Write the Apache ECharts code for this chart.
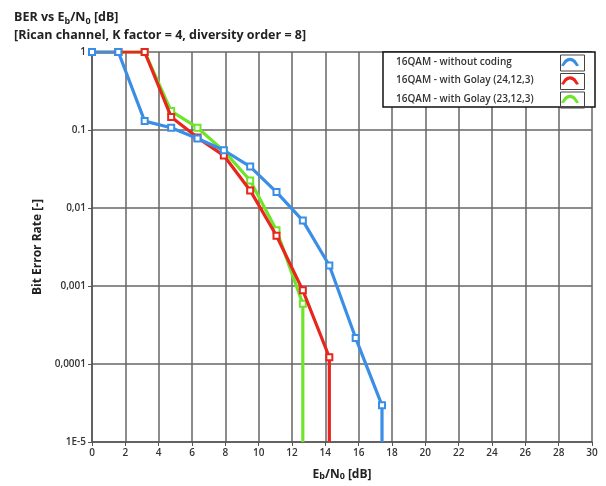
<!DOCTYPE html>
<html>
<head>
<meta charset="utf-8">
<script src="https://cdn.jsdelivr.net/npm/echarts@6/dist/echarts.min.js"></script>
<style>
	html, body { margin: 0; padding: 0; background: #fff; }
	#chart { width: 606px; height: 486px; }
</style>
</head>
<body>
<div id="chart"></div>
<script>
	// Eb/N0 sample points [dB]
	var ebnoX = [0, 1.58, 3.16, 4.75, 6.33, 7.91, 9.49, 11.07, 12.65, 14.24, 15.82, 17.4];
	// BER values
	var berUncoded = [1, 1, 0.13, 0.107, 0.078, 0.055, 0.034, 0.016, 0.0069, 0.00183, 0.000215, 0.0000295];
	var berGolay24 = [1, 1, 1, 0.147, 0.080, 0.047, 0.0168, 0.0044, 0.00088, 0.000122];
	var berGolay23 = [1, 1, 1, 0.175, 0.107, 0.054, 0.0225, 0.0052, 0.00059];
	var berFloor = 0.00001;

	var seriesNames = ['16QAM - without coding', '16QAM - with Golay (24,12,3)', '16QAM - with Golay (23,12,3)'];
	var seriesColors = ['#3b8ee6', '#e8261e', '#6ee52a'];

	var yTicks = {1: '1', 0.1: '0.1', 0.01: '0,01', 0.001: '0,001', 0.0001: '0,0001', 0.00001: '1E-5'};

	function buildData(ys) {
		var d = [];
		for (var i = 0; i < ys.length; i++) {
			d.push([ebnoX[i], ys[i]]);
		}
		// curve drops to the bottom of the axis after the last point
		d.push({value: [ebnoX[ys.length - 1], berFloor], symbol: 'none'});
		return d;
	}

	function makeSeries(idx, ys) {
		return {
			name: seriesNames[idx],
			type: 'line',
			data: buildData(ys),
			symbol: 'emptyRect',
			symbolSize: 6,
			lineStyle: {width: 3.2, color: seriesColors[idx]},
			itemStyle: {color: seriesColors[idx], borderWidth: 1.5},
			z: 10 - idx
		};
	}

	var archIcon = 'path://M0,10 L4,4 Q10,-1 16,4 L20,10 L17,11 L14,7 Q10,3 6,7 L3,11 Z';
	var bold = '"Open Sans", sans-serif';

	// frames drawn around the legend icons
	function iconFrame(top) {
		return {type: 'rect', left: 558, top: top, shape: {width: 24, height: 16}, style: {fill: 'none', stroke: '#444', lineWidth: 1}, z: 100};
	}

	var option = {
		animation: false,
		backgroundColor: '#fff',
		title: {
			left: 9,
			top: 3,
			text: '{a|BER vs E}{s|b}{a|/N}{s|0}{a| [dB]}\n{a|[Rican channel, K factor = 4, diversity order = 8]}',
			textStyle: {
				rich: {
					a: {fontFamily: bold, fontWeight: 'bold', fontSize: 12.5, color: '#222', lineHeight: 18},
					s: {fontFamily: bold, fontWeight: 'bold', fontSize: 9, color: '#222', lineHeight: 18, verticalAlign: 'bottom'}
				}
			}
		},
		legend: {
			data: seriesNames,
			orient: 'vertical',
			left: 383,
			top: 52,
			align: 'right',
			padding: [5, 16, 3, 13],
			itemGap: 8.5,
			itemWidth: 18,
			itemHeight: 12,
			backgroundColor: '#fff',
			borderColor: '#111',
			borderWidth: 1.5,
			borderRadius: 0,
			icon: archIcon,
			formatter: function (name) {
				return '{t|' + name + '}';
			},
			textStyle: {
				rich: {
					t: {fontFamily: bold, fontWeight: 600, fontSize: 10, color: '#333', width: 160, align: 'left', lineHeight: 12}
				}
			}
		},
		graphic: [iconFrame(52.5), iconFrame(71), iconFrame(89.5)],
		grid: {left: 92, right: 14, top: 52, bottom: 43},
		xAxis: {
			type: 'value',
			min: 0,
			max: 30,
			interval: 2,
			name: '{a|E}{s|b}{a|/N}{s|0}{a| [dB]}',
			nameLocation: 'middle',
			nameGap: 27,
			nameTextStyle: {
				rich: {
					a: {fontFamily: bold, fontWeight: 'bold', fontSize: 12, color: '#222'},
					s: {fontFamily: bold, fontWeight: 'bold', fontSize: 9, color: '#222', verticalAlign: 'bottom'}
				}
			},
			axisLine: {lineStyle: {color: '#555', width: 1.5}},
			axisTick: {show: true, length: 4, lineStyle: {color: '#555'}},
			axisLabel: {fontFamily: bold, fontWeight: 600, fontSize: 10, color: '#333', margin: 6},
			splitLine: {show: true, lineStyle: {color: '#666', width: 1.5}}
		},
		yAxis: {
			type: 'log',
			logBase: 10,
			min: 0.00001,
			max: 1,
			name: 'Bit Error Rate [-]',
			nameLocation: 'middle',
			nameGap: 45,
			nameTextStyle: {fontFamily: bold, fontWeight: 'bold', fontSize: 12, color: '#222'},
			axisLine: {show: true, lineStyle: {color: '#555', width: 1.5}},
			axisTick: {show: true, length: 4, lineStyle: {color: '#555'}},
			axisLabel: {
				fontFamily: bold, fontWeight: 600, fontSize: 10, color: '#333', margin: 6,
				formatter: function (v) {
					var key = Number(v.toPrecision(3));
					return yTicks[key] !== undefined ? yTicks[key] : '';
				}
			},
			splitLine: {show: true, lineStyle: {color: '#666', width: 1.5}},
			minorTick: {show: false},
			minorSplitLine: {show: false}
		},
		series: [
			makeSeries(0, berUncoded),
			makeSeries(1, berGolay24),
			makeSeries(2, berGolay23)
		]
	};

	var myChart = echarts.init(document.getElementById('chart'), null, {renderer: 'canvas'});
	myChart.setOption(option);
</script>
</body>
</html>
